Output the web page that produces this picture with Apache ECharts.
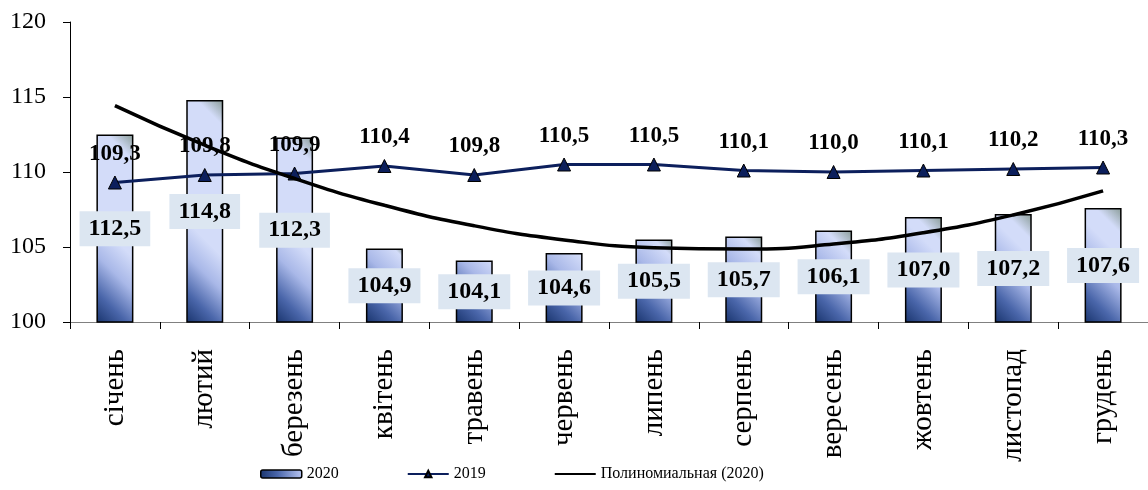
<!DOCTYPE html>
<html><head><meta charset="utf-8">
<script src="https://cdn.jsdelivr.net/npm/echarts@6/dist/echarts.min.js"></script>
<style>html,body{margin:0;padding:0;background:#fff}#c{width:1148px;height:490px}</style>
</head><body><div id="c"></div>
<script>
const months = ['січень','лютий','березень','квітень','травень','червень','липень','серпень','вересень','жовтень','листопад','грудень'];
const values2020 = [112.5,114.8,112.3,104.9,104.1,104.6,105.5,105.7,106.1,107.0,107.2,107.6];
const values2019 = [109.3,109.8,109.9,110.4,109.8,110.5,110.5,110.1,110.0,110.1,110.2,110.3];
const yTicks = [100,105,110,115,120];

// Polynomial (degree 2) trendline of the 2020 series, least squares
function polyFit(ys){
  let S=[0,0,0,0,0], T=[0,0,0];
  ys.forEach((y,i)=>{const x=i+1; for(let k=0;k<5;k++)S[k]+=Math.pow(x,k); for(let k=0;k<3;k++)T[k]+=y*Math.pow(x,k);});
  const A=[[S[0],S[1],S[2],T[0]],[S[1],S[2],S[3],T[1]],[S[2],S[3],S[4],T[2]]];
  for(let i=0;i<3;i++){for(let j=i+1;j<3;j++){const f=A[j][i]/A[i][i];for(let k=i;k<4;k++)A[j][k]-=f*A[i][k];}}
  const c=[0,0,0];for(let i=2;i>=0;i--){let s=A[i][3];for(let k=i+1;k<3;k++)s-=A[i][k]*c[k];c[i]=s/A[i][i];}
  return ys.map((_,i)=>{const x=i+1;return c[0]+c[1]*x+c[2]*x*x;});
}
const trend = polyFit(values2020);

const serif = 'Liberation Serif, Times New Roman, serif';
const GRID_TOP=22, GRID_BOTTOM=168, BAR_W=37, Y_MIN=100, Y_MAX=120;
const plotH = 490-GRID_TOP-GRID_BOTTOM;

// 45° corner gradient (dark bottom-left, light body, greyish top-right)
function barFill(v){
  const w=BAR_W, h=Math.max(4,(v-Y_MIN)/(Y_MAX-Y_MIN)*plotH);
  const L=(w+h)/Math.SQRT2;
  const o=px=>Math.min(1,Math.max(0,px/L));
  const a=o(72), b=Math.max(a,1-o(18));
  return new echarts.graphic.LinearGradient(0,1,(w+h)/(2*w),1-(w+h)/(2*h),[
    {offset:0,color:'#18336c'},{offset:o(22),color:'#4a66aa'},{offset:o(48),color:'#a9b8e8'},
    {offset:a,color:'#d3dcf9'},{offset:b,color:'#d3dcf9'},{offset:1,color:'#8a9c98'}]);
}
const fmt = v=>v.toFixed(1).replace('.',',');

const chart = echarts.init(document.getElementById('c'));
chart.setOption({
  animation:false,
  grid:{left:70,right:0,top:GRID_TOP,bottom:GRID_BOTTOM},
  legend:{bottom:3,left:255,itemGap:68,itemWidth:41,itemHeight:8,
    textStyle:{fontFamily:serif,fontSize:16,color:'#000'},
    data:[{name:'2020',itemStyle:{color:barFill(106),borderColor:'#000',borderWidth:1.5}},
          '2019',
          {name:'Полиномиальная (2020)',itemStyle:{opacity:0}}]},
  xAxis:{type:'category',data:months,
    axisLine:{lineStyle:{color:'#808080',width:1}},
    axisTick:{show:true,length:7,lineStyle:{color:'#000'}},
    axisLabel:{rotate:90,fontFamily:serif,fontSize:29,color:'#000',margin:27}},
  yAxis:{type:'value',min:Y_MIN,max:Y_MAX,interval:5,
    axisLine:{show:true,lineStyle:{color:'#000'}},
    axisTick:{show:true,length:7,lineStyle:{color:'#000'}},
    splitLine:{show:false},
    axisLabel:{fontFamily:serif,fontSize:24,color:'#000',margin:24,
      formatter:v=>yTicks.includes(v)?String(v):''}},
  series:[
    {name:'2020',type:'bar',barWidth:BAR_W,z:2,
      data:values2020.map(v=>({value:v,itemStyle:{color:barFill(v)}})),
      itemStyle:{borderColor:'#000',borderWidth:1.5},
      label:{show:true,position:'inside',
        formatter:p=>fmt(p.value),
        fontFamily:serif,fontSize:24,fontWeight:'bold',color:'#000',lineHeight:24,
        backgroundColor:'#dce6f1',padding:[6,9,5,9]}},
    {name:'2019',type:'line',data:values2019,z:3,
      lineStyle:{color:'#0c1f5c',width:3},itemStyle:{color:'#0c1f5c',borderColor:'#000',borderWidth:1},
      symbol:'triangle',symbolSize:13,
      label:{show:true,position:'top',distance:10,
        formatter:p=>fmt(p.value),
        fontFamily:serif,fontSize:23,fontWeight:'bold',color:'#000'}},
    {name:'Полиномиальная (2020)',type:'line',data:trend,smooth:true,z:5,
      symbol:'none',lineStyle:{color:'#000',width:3.5},itemStyle:{color:'#000'}}
  ]
});
</script></body></html>
